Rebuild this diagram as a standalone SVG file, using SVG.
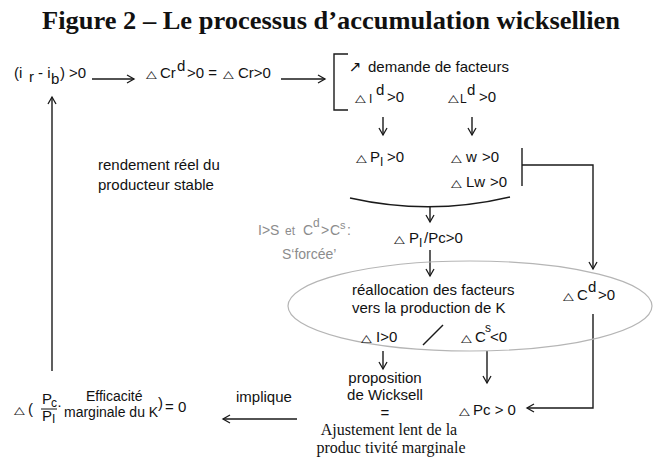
<svg xmlns="http://www.w3.org/2000/svg" width="655" height="459" viewBox="0 0 655 459">
<style>
.t{font-family:"Liberation Sans",Arial,sans-serif;font-size:15px;fill:#111}
.tri{font-family:"DejaVu Sans",sans-serif;font-size:14px}
.s{font-size:12px}
.g{fill:#8c8c8c;font-size:14px}
.serif{font-family:"Liberation Serif","Times New Roman",serif;font-size:16px;fill:#111}
.title{font-family:"Liberation Serif","Times New Roman",serif;font-weight:bold;font-size:25px;fill:#111}
.ln{stroke:#1a1a1a;stroke-width:1.4;fill:none}
.arr{marker-end:url(#ah)}
</style>
<defs>
<marker id="ah" markerWidth="10" markerHeight="10" viewBox="-8 -5 10 10" refX="0" refY="0" orient="auto" markerUnits="userSpaceOnUse">
<path d="M-7,-4 L0,0 L-7,4" fill="none" stroke="#1a1a1a" stroke-width="1.3"/>
</marker>
</defs>
<rect width="655" height="459" fill="#fff"/>
<text class="title" x="42" y="29" textLength="578" lengthAdjust="spacingAndGlyphs">Figure 2 – Le processus d’accumulation wicksellien</text>

<g id="connectors">
<line class="ln arr" x1="92" y1="79" x2="134" y2="79"/>
<line class="ln arr" x1="281" y1="79" x2="325" y2="79"/>
<path class="ln" d="M348,54 H334 V110 H348"/>
<line class="ln arr" x1="383" y1="117" x2="383" y2="135"/>
<line class="ln arr" x1="472" y1="117" x2="472" y2="135"/>
<line class="ln" x1="522" y1="148" x2="522" y2="186"/>
<path class="ln arr" d="M522,165 H593 V269"/>
<path class="ln" d="M350,198 Q430,216 510,197"/>
<line class="ln arr" x1="430" y1="207" x2="430" y2="222"/>
<line class="ln arr" x1="430" y1="250" x2="430" y2="276"/>
<path class="ln arr" d="M593,314 V408 H527"/>
<line class="ln" x1="423" y1="345" x2="443" y2="325"/>
<line class="ln arr" x1="383" y1="351" x2="383" y2="369"/>
<line class="ln arr" x1="487" y1="351" x2="487" y2="383"/>
<line class="ln arr" x1="297" y1="419" x2="223" y2="419"/>
<line class="ln arr" x1="52" y1="371" x2="52" y2="97"/>
</g>

<g id="n-taux">
<text class="t" y="78"><tspan x="14">(i</tspan><tspan x="29" y="82">r</tspan><tspan x="38" y="78">- i</tspan><tspan x="51" y="84">b</tspan><tspan x="60" y="78">)</tspan><tspan x="69" y="78">&gt;0</tspan></text>
</g>

<g id="n-credit">
<text class="t tri" transform="translate(146,78) scale(1,0.75)">△</text>
<text class="t" y="78"><tspan x="160">Cr</tspan><tspan x="177" y="71">d</tspan><tspan x="187" y="78">&gt;0 =</tspan></text>
<text class="t tri" transform="translate(223,78) scale(1,0.75)">△</text>
<text class="t" x="238" y="78">Cr&gt;0</text>
</g>

<g id="n-demande">
<text class="t" x="349" y="72" style="font-family:'DejaVu Sans',sans-serif;font-size:15px">↗</text>
<text class="t" x="368" y="72">demande de facteurs</text>
<text class="t tri" transform="translate(355,102) scale(1,0.75)">△</text>
<text class="t" y="102"><tspan class="s" x="369" y="103">I</tspan><tspan x="376" y="95">d</tspan><tspan x="387" y="102">&gt;0</tspan></text>
<text class="t tri" transform="translate(448,102) scale(1,0.75)">△</text>
<text class="t" y="102"><tspan class="s" x="460" y="103">L</tspan><tspan x="467" y="95">d</tspan><tspan x="479" y="102">&gt;0</tspan></text>
</g>

<g id="n-prix">
<text class="t tri" transform="translate(356,162) scale(1,0.75)">△</text>
<text class="t" y="162"><tspan x="370">P</tspan><tspan class="s" x="380" y="166">I</tspan><tspan x="387" y="162">&gt;0</tspan></text>
<text class="t tri" transform="translate(451,162) scale(1,0.75)">△</text>
<text class="t" y="162"><tspan x="466">w</tspan><tspan x="482">&gt;0</tspan></text>
<text class="t tri" transform="translate(451,187) scale(1,0.75)">△</text>
<text class="t" y="187"><tspan x="466">Lw</tspan><tspan x="490">&gt;0</tspan></text>
</g>

<g id="n-rendement">
<text class="t" x="98" y="170">rendement réel du</text>
<text class="t" x="98" y="190">producteur stable</text>
</g>

<g id="n-epargne">
<text class="t g" y="235"><tspan x="258">I&gt;S</tspan><tspan class="s" x="285">et</tspan><tspan x="303">C</tspan><tspan class="s" x="313" y="227">d</tspan><tspan x="321" y="235">&gt;</tspan><tspan x="330">C</tspan><tspan style="font-size:11px" x="340" y="229">s</tspan><tspan x="347" y="235">:</tspan></text>
<text class="t g" x="282" y="259">S‘forcée’</text>
</g>

<g id="n-prix-relatif">
<text class="t tri" transform="translate(394,243) scale(1,0.75)">△</text>
<text class="t" y="243"><tspan x="409">P</tspan><tspan class="s" x="419" y="247">I</tspan><tspan x="424" y="243">/Pc&gt;0</tspan></text>
</g>

<g id="n-reallocation">
<ellipse cx="470" cy="306" rx="182" ry="45" fill="none" stroke="#b5b5b5" stroke-width="1.2"/>
<text class="t" x="352" y="295">réallocation des facteurs</text>
<text class="t" x="352" y="313">vers la production de K</text>
<text class="t tri" transform="translate(361,342) scale(1,0.75)">△</text>
<text class="t" x="376" y="342">I&gt;0</text>
<text class="t tri" transform="translate(461,342) scale(1,0.75)">△</text>
<text class="t" y="342"><tspan x="475">C</tspan><tspan class="s" x="485" y="332">s</tspan><tspan x="490" y="342">&lt;0</tspan></text>
</g>

<g id="n-consommation">
<text class="t tri" transform="translate(563,300) scale(1,0.75)">△</text>
<text class="t" y="300"><tspan x="577">C</tspan><tspan x="588" y="292">d</tspan><tspan x="598" y="300">&gt;0</tspan></text>
</g>

<g id="n-wicksell">
<text class="t" x="385" y="383" text-anchor="middle">proposition</text>
<text class="t" x="385" y="400" text-anchor="middle">de Wicksell</text>
<text class="t" x="385" y="418" text-anchor="middle">=</text>
<text class="serif" x="389" y="435" text-anchor="middle">Ajustement lent de la</text>
<text class="serif" x="391" y="453" text-anchor="middle">produc tivité marginale</text>
</g>

<g id="n-pc">
<text class="t tri" transform="translate(459,415) scale(1,0.75)">△</text>
<text class="t" x="473" y="415">Pc &gt; 0</text>
</g>

<g id="n-implique">
<text class="t" x="236" y="402">implique</text>
</g>

<g id="n-efficacite">
<text class="t tri" transform="translate(14,414) scale(1,0.75)">△</text>
<text class="t" x="28" y="414">(</text>
<text class="t" y="404"><tspan x="42">P</tspan><tspan class="s" x="51" y="407">c</tspan></text>
<line x1="41" y1="409" x2="57" y2="409" stroke="#111" stroke-width="1"/>
<text class="t" y="421"><tspan x="42">P</tspan><tspan class="s" x="52" y="423">I</tspan></text>
<text class="t" x="57" y="410">·</text>
<text class="t" x="86" y="401" style="font-size:14px">Efficacité</text>
<text class="t" x="64" y="417" style="font-size:14px">marginale du K</text>
<text class="t" x="158" y="408">)</text>
<text class="t" x="165" y="412">= 0</text>
</g>
</svg>
